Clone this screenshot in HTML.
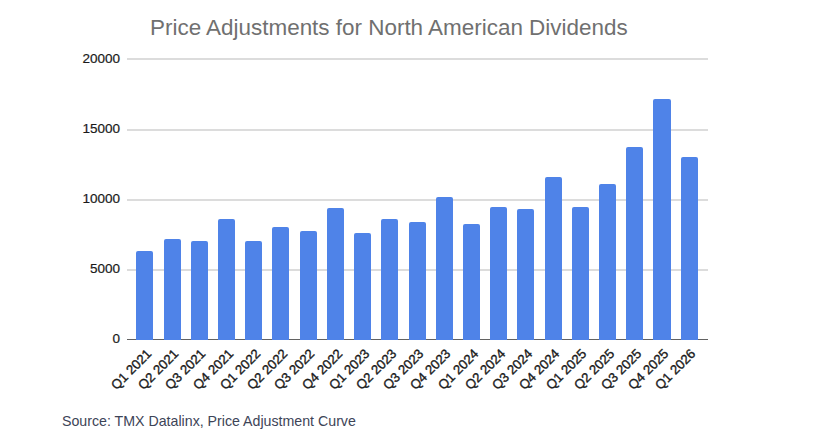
<!DOCTYPE html>
<html><head><meta charset="utf-8"><style>
html,body{margin:0;padding:0;background:#fff;}
body{width:824px;height:442px;position:relative;overflow:hidden;font-family:"Liberation Sans",sans-serif;}
.title{position:absolute;left:150px;top:14.5px;font-size:22.45px;color:#707070;white-space:nowrap;}
.grid{position:absolute;left:126.5px;width:581.5px;height:2px;background:#dcdcdc;}
.axis{position:absolute;left:126.5px;width:581.5px;top:339px;height:1.4px;background:#626262;}
.bar{position:absolute;width:17.1px;background:#4f83e8;border-radius:2px 2px 0 0;}
.yl{position:absolute;right:704px;font-size:13.5px;color:#1a1a1a;-webkit-text-stroke:0.2px #1a1a1a;white-space:nowrap;line-height:16px;}
.xl{position:absolute;font-size:13.25px;color:#1a1a1a;-webkit-text-stroke:0.35px #1a1a1a;white-space:nowrap;line-height:16px;transform-origin:100% 0;transform:rotate(-45deg);}
.src{position:absolute;left:62px;top:413px;font-size:14.2px;color:#3d4457;white-space:nowrap;}
</style></head><body>
<div class="title">Price Adjustments for North American Dividends</div>
<div class="grid" style="top:58.3px"></div>
<div class="grid" style="top:129.0px"></div>
<div class="grid" style="top:198.8px"></div>
<div class="grid" style="top:268.6px"></div>
<div class="axis"></div>
<div class="bar" style="left:136.30px;top:251.0px;height:89.3px"></div>
<div class="bar" style="left:163.52px;top:238.5px;height:101.8px"></div>
<div class="bar" style="left:190.74px;top:240.8px;height:99.5px"></div>
<div class="bar" style="left:217.96px;top:218.7px;height:121.6px"></div>
<div class="bar" style="left:245.18px;top:240.7px;height:99.6px"></div>
<div class="bar" style="left:272.40px;top:226.5px;height:113.8px"></div>
<div class="bar" style="left:299.62px;top:231.0px;height:109.3px"></div>
<div class="bar" style="left:326.84px;top:207.5px;height:132.8px"></div>
<div class="bar" style="left:354.06px;top:233.1px;height:107.2px"></div>
<div class="bar" style="left:381.28px;top:219.0px;height:121.3px"></div>
<div class="bar" style="left:408.50px;top:222.1px;height:118.2px"></div>
<div class="bar" style="left:435.72px;top:196.6px;height:143.7px"></div>
<div class="bar" style="left:462.94px;top:224.1px;height:116.2px"></div>
<div class="bar" style="left:490.16px;top:206.5px;height:133.8px"></div>
<div class="bar" style="left:517.38px;top:208.5px;height:131.8px"></div>
<div class="bar" style="left:544.60px;top:176.6px;height:163.7px"></div>
<div class="bar" style="left:571.82px;top:206.6px;height:133.7px"></div>
<div class="bar" style="left:599.04px;top:183.5px;height:156.8px"></div>
<div class="bar" style="left:626.26px;top:146.8px;height:193.5px"></div>
<div class="bar" style="left:653.48px;top:99.1px;height:241.2px"></div>
<div class="bar" style="left:680.70px;top:157.0px;height:183.3px"></div>
<div class="yl" style="top:50.7px">20000</div>
<div class="yl" style="top:121.4px">15000</div>
<div class="yl" style="top:191.2px">10000</div>
<div class="yl" style="top:261.0px">5000</div>
<div class="yl" style="top:331.1px">0</div>
<div class="xl" style="right:680.20px;top:345.5px">Q1 2021</div>
<div class="xl" style="right:652.98px;top:345.5px">Q2 2021</div>
<div class="xl" style="right:625.76px;top:345.5px">Q3 2021</div>
<div class="xl" style="right:598.54px;top:345.5px">Q4 2021</div>
<div class="xl" style="right:571.32px;top:345.5px">Q1 2022</div>
<div class="xl" style="right:544.10px;top:345.5px">Q2 2022</div>
<div class="xl" style="right:516.88px;top:345.5px">Q3 2022</div>
<div class="xl" style="right:489.66px;top:345.5px">Q4 2022</div>
<div class="xl" style="right:462.44px;top:345.5px">Q1 2023</div>
<div class="xl" style="right:435.22px;top:345.5px">Q2 2023</div>
<div class="xl" style="right:408.00px;top:345.5px">Q3 2023</div>
<div class="xl" style="right:380.78px;top:345.5px">Q4 2023</div>
<div class="xl" style="right:353.56px;top:345.5px">Q1 2024</div>
<div class="xl" style="right:326.34px;top:345.5px">Q2 2024</div>
<div class="xl" style="right:299.12px;top:345.5px">Q3 2024</div>
<div class="xl" style="right:271.90px;top:345.5px">Q4 2024</div>
<div class="xl" style="right:244.68px;top:345.5px">Q1 2025</div>
<div class="xl" style="right:217.46px;top:345.5px">Q2 2025</div>
<div class="xl" style="right:190.24px;top:345.5px">Q3 2025</div>
<div class="xl" style="right:163.02px;top:345.5px">Q4 2025</div>
<div class="xl" style="right:135.80px;top:345.5px">Q1 2026</div>
<div class="src">Source: TMX Datalinx, Price Adjustment Curve</div>
</body></html>
